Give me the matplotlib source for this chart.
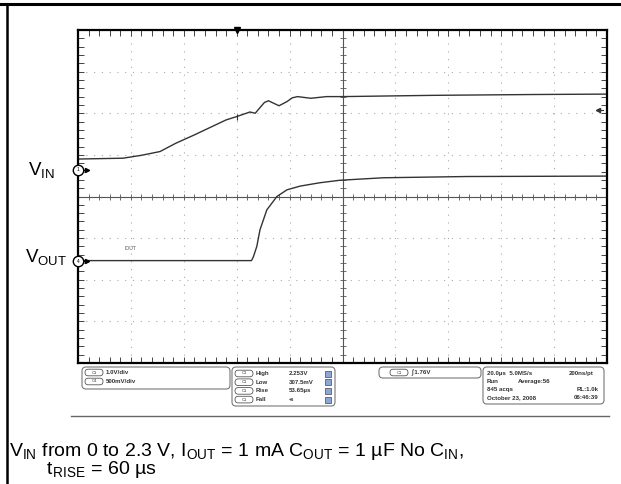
import numpy as np
import matplotlib
matplotlib.use("Agg")
from matplotlib import pyplot as plt
from matplotlib.ticker import MultipleLocator, NullFormatter
from matplotlib.patches import FancyBboxPatch, Rectangle
from matplotlib.lines import Line2D
import matplotlib.transforms as mtrans

plt.rcParams['font.family'] = ['Liberation Sans', 'DejaVu Sans']
plt.rcParams['mathtext.fontset'] = 'custom'
plt.rcParams['mathtext.rm'] = 'Liberation Sans'

# Scope traces: time in µs (20 µs/div), level in screen divisions (0..8)
vin_t = [0, 17, 24, 31, 37, 44, 50, 56, 60, 65, 67, 69, 70.5, 72, 74, 76, 79, 81, 83, 88, 94, 100, 134, 172, 200]
vin_div = [4.90, 4.92, 4.99, 5.08, 5.28, 5.48, 5.66, 5.84, 5.92, 6.03, 6.00, 6.15, 6.26, 6.30, 6.24, 6.18, 6.28, 6.37,
           6.40, 6.36, 6.40, 6.40, 6.43, 6.45, 6.46]

vout_t = [0, 65.6, 66.3, 67.6, 68.8, 71.4, 75.2, 79, 84, 91.4, 99, 115.4, 147, 200]
vout_div = [2.46, 2.46, 2.55, 2.80, 3.20, 3.68, 4.00, 4.16, 4.25, 4.33, 4.39, 4.45, 4.48, 4.49]

# channel ground markers and trigger
vin_ground = 4.64
vout_ground = 2.45
trig_t = 60
trig_level = 6.08

# readout panel text
scale_rows = ["1.0V/div", "500mV/div"]
scale_chans = ["C1", "C4"]
meas_names = ["High", "Low", "Rise", "Fall"]
meas_values = ["2.253V", "307.5mV", "53.65µs", "-s"]
trig_text = "1.76V"
acq_left = ["20.0µs  5.0MS/s", "Run", "845 acqs", "October 23, 2008"]
acq_mid = ["", "Average:56", "", ""]
acq_right = ["200ns/pt", "", "RL:1.0k", "06:46:39"]

caption1 = r"V$_{\mathrm{IN}}$ from 0 to 2.3 V, I$_{\mathrm{OUT}}$ = 1 mA C$_{\mathrm{OUT}}$ = 1 µF No C$_{\mathrm{IN}}$,"
caption2 = r"t$_{\mathrm{RISE}}$ = 60 µs"

W, H = 621, 484
fig = plt.figure(figsize=(W / 100, H / 100), dpi=100)
# pixel coordinates with origin top-left, for the page decorations
px = mtrans.Affine2D().scale(1 / W, -1 / H).translate(0, 1) + fig.transFigure

# outer frame of the page
fig.add_artist(Line2D([0, W], [4, 4], transform=px, color='k', lw=2.2))
fig.add_artist(Line2D([7, 7], [4, H], transform=px, color='k', lw=1.8))

# --- graticule ---
ax = fig.add_axes([78 / W, 1 - 363 / H, 529 / W, 333 / H])
ax.set_xlim(0, 200)
ax.set_ylim(0, 8)
for s in ax.spines.values():
    s.set_linewidth(1.6)
    s.set_color('k')
ax.xaxis.set_major_locator(MultipleLocator(20))
ax.xaxis.set_minor_locator(MultipleLocator(4))
ax.yaxis.set_major_locator(MultipleLocator(1))
ax.yaxis.set_minor_locator(MultipleLocator(0.2))
ax.xaxis.set_major_formatter(NullFormatter())
ax.yaxis.set_major_formatter(NullFormatter())
ax.tick_params(which='both', direction='in', length=4, width=0.7, color='#444',
               top=True, right=True, bottom=True, left=True)
ax.grid(True, which='major', color='#aaaaaa', lw=0.8, linestyle=(0, (1, 6)))

# center cross with its small ticks
ax.axhline(4, color='#555', lw=0.8)
ax.axvline(100, color='#555', lw=0.8)
cx = np.arange(4, 200, 4)
cy = np.arange(0.2, 8, 0.2)
ax.plot(cx, np.full(len(cx), 4), ls='none', marker='|', ms=5, mew=0.6, color='#555')
ax.plot(np.full(len(cy), 100), cy, ls='none', marker='_', ms=5, mew=0.6, color='#555')

# traces
ax.plot(vin_t, vin_div, color='#333', lw=1.0)
ax.plot(vout_t, vout_div, color='#333', lw=1.0)
ax.plot([trig_t], [np.interp(trig_t, vin_t, vin_div)], marker='|', ms=4, mew=0.8, color='#333')

# channel markers on the left border
for lvl, num in [(vin_ground, "1"), (vout_ground, "4")]:
    ax.plot([1.5, 3.5], [lvl, lvl], color='k', lw=0.9, clip_on=False)
    ax.plot([3.5], [lvl], marker='>', ms=3, color='k', clip_on=False)
    ax.plot([0], [lvl], marker='o', ms=7.5, mfc='white', mec='k', mew=1.0, clip_on=False, zorder=5)
    ax.text(0, lvl, num, fontsize=3.5, ha='center', va='center', zorder=6)

# trigger position and level markers
ax.plot([trig_t], [8], marker='v', ms=4, color='k', clip_on=False, zorder=5)
ax.plot([196.5], [trig_level], marker='<', ms=3, color='#333', clip_on=False)
ax.plot([196.5, 198.5], [trig_level, trig_level], color='#333', lw=0.8)
ax.text(17.5, 2.76, "IOUT", fontsize=3.6, color='#555', ha='left', va='center')

# channel names at the left
fig.text(28, 176, r"V$_{\mathrm{IN}}$", transform=px, fontsize=13.5, va='baseline')
fig.text(25, 263, r"V$_{\mathrm{OUT}}$", transform=px, fontsize=13.5, va='baseline')


# --- readout panel ---
def box(x0, y0, x1, y1):
    fig.add_artist(FancyBboxPatch((x0, y0), x1 - x0, y1 - y0, boxstyle='round,pad=0,rounding_size=4',
                                  transform=px, fc='white', ec='#777', lw=0.8))


def pill(x, y, label):
    fig.add_artist(FancyBboxPatch((x, y - 3.3), 18, 6.6, boxstyle='round,pad=0,rounding_size=3.3',
                                  transform=px, fc='white', ec='#555', lw=0.6))
    fig.text(x + 9, y, label, transform=px, fontsize=3, ha='center', va='center', color='#333')


small = dict(transform=px, fontsize=4.4, fontweight='bold', color='#333', va='center')

box(82, 367, 230, 389)
for i, (ch, s) in enumerate(zip(scale_chans, scale_rows)):
    y = 372.5 + i * 9
    pill(85, y, ch)
    fig.text(106, y, s, **small)

box(232, 367, 335, 406)
for i, (n, v) in enumerate(zip(meas_names, meas_values)):
    y = 373.5 + i * 8.7
    pill(235, y, "C1")
    fig.text(256, y, n, **small)
    fig.text(289, y, v, **small)
    fig.add_artist(Rectangle((325, y - 3), 6, 6, transform=px, fc='#8ea6d6', ec='#445', lw=0.5))

box(379, 367, 481, 378)
pill(390, 372.5, "C1")
fig.text(411, 372.5, "∫ " + trig_text, **small)

box(483, 367, 604, 404)
for i in range(4):
    y = 373.3 + i * 8.1
    fig.text(487, y, acq_left[i], **small)
    fig.text(518, y, acq_mid[i], **small)
    if i == 0:
        fig.text(569, y, acq_right[i], **small)
    else:
        fig.text(599, y, acq_right[i], ha='right', **small)

fig.add_artist(Line2D([71, 609], [416, 416], transform=px, color='#666', lw=1.0))

# caption, second line indented
fig.text(9, 441, caption1 + "\n       " + caption2, transform=px, fontsize=14,
         va='top', ha='left', linespacing=0.82)

fig.savefig("out.png", dpi=100)
